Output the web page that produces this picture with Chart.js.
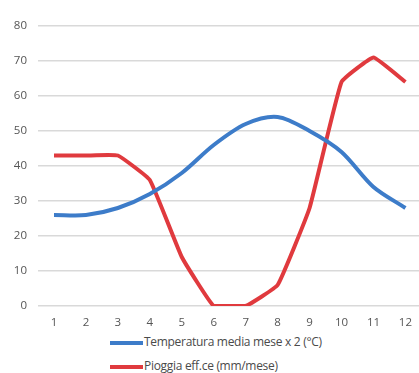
<!DOCTYPE html>
<html>
<head>
<meta charset="utf-8">
<script src="https://cdn.jsdelivr.net/npm/chart.js@4"></script>
<style>
  html, body { margin: 0; padding: 0; background: #fff; }
  #wrap { position: relative; width: 419px; height: 373px; overflow: hidden; }
  #box { position: absolute; left: 0; top: 0; width: 422px; height: 332px; }
  .leg { position: absolute; left: 110px; font: 12px "Open Sans", sans-serif; color: #4a4a4a; letter-spacing: -0.3px; white-space: nowrap; }
  .leg i { display: inline-block; width: 33px; height: 4px; vertical-align: middle; margin-right: 1px; }
</style>
</head>
<body>
<div id="wrap">
  <div id="box"><canvas id="chart"></canvas></div>
  <div class="leg" style="top:333px"><i style="background:#3d7cc9"></i><span id="l1"></span></div>
  <div class="leg" style="top:357px"><i style="background:#e03a3e"></i><span id="l2"></span></div>
</div>
<script>
// mesi
const months = ['1', '2', '3', '4', '5', '6', '7', '8', '9', '10', '11', '12'];
// serie
const tempLabel = 'Temperatura media mese x 2 (°C)';
const tempValues = [26, 26, 28, 32, 38, 46, 52, 54, 50, 44, 34, 28];
const rainLabel = 'Pioggia eff.ce (mm/mese)';
const rainValues = [43, 43, 43, 36, 14, 0, 0, 6, 28, 64, 71, 64];
// asse y
const yTicks = [0, 10, 20, 30, 40, 50, 60, 70, 80];

document.getElementById('l1').textContent = tempLabel;
document.getElementById('l2').textContent = rainLabel;

const ctx = document.getElementById('chart');
new Chart(ctx.getContext('2d'), {
    type: 'line',
    data: {
        labels: months,
        datasets: [
            { label: tempLabel, data: tempValues, borderColor: '#3d7cc9', borderWidth: 4, pointRadius: 0, tension: 0.3, fill: false },
            { label: rainLabel, data: rainValues, borderColor: '#e03a3e', borderWidth: 4, pointRadius: 0, tension: 0.1, fill: false }
        ]
    },
    options: {
        responsive: true,
        maintainAspectRatio: false,
        animation: false,
        layout: { padding: { top: 26, right: 0, left: 0, bottom: 0 } },
        plugins: { legend: { display: false }, tooltip: { enabled: false } },
        scales: {
            x: {
                offset: true,
                grid: { display: false, drawTicks: false },
                border: { display: false },
                ticks: { padding: 10, color: '#555', font: { family: 'Open Sans', size: 11.5 } },
                afterFit: s => { s.height = 26; }
            },
            y: {
                min: 0, max: 80,
                afterBuildTicks: s => { s.ticks = yTicks.map(v => ({ value: v })); },
                grid: { color: '#d9d9d9', lineWidth: 1.5, drawTicks: false },
                border: { display: false },
                ticks: { padding: 11, color: '#555', font: { family: 'Open Sans', size: 11.5 } },
                afterFit: s => { s.width = 38; }
            }
        }
    }
});
</script>
</body>
</html>
